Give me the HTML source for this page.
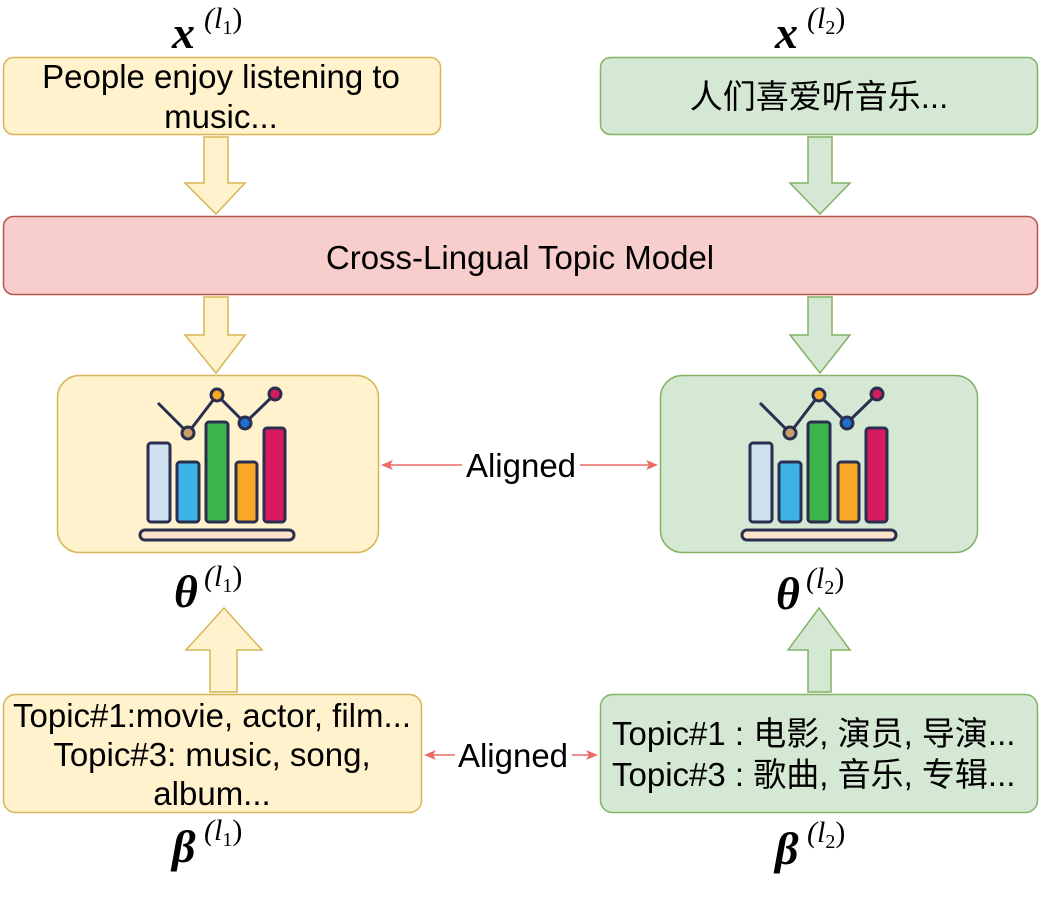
<!DOCTYPE html>
<html><head><meta charset="utf-8"><style>
html,body{margin:0;padding:0;background:#fff;}
svg{display:block;}
.t{font-family:"Liberation Sans","Noto Sans CJK SC",sans-serif;font-size:33px;fill:#000;}
.m{font-family:"Liberation Serif",serif;font-style:italic;font-weight:bold;fill:#000;}
.s{font-family:"Liberation Serif",serif;font-style:italic;fill:#000;}
</style></head><body>
<svg width="1042" height="906" viewBox="0 0 1042 906" xmlns="http://www.w3.org/2000/svg">
<defs>
<g id="icon">
<polyline points="158,403 188,433 217,395 245,423 275,394" fill="none" stroke="#2a2f4f" stroke-width="3"/>
<rect x="148" y="443" width="22" height="79" rx="3" fill="#cfe0ef" stroke="#2a2f4f" stroke-width="3"/>
<rect x="177" y="462" width="22" height="60" rx="3" fill="#3db2e6" stroke="#2a2f4f" stroke-width="3"/>
<rect x="206" y="422" width="22" height="100" rx="3" fill="#3cb54a" stroke="#2a2f4f" stroke-width="3"/>
<rect x="236" y="462" width="21" height="60" rx="3" fill="#f9a825" stroke="#2a2f4f" stroke-width="3"/>
<rect x="264" y="428" width="21" height="94" rx="3" fill="#d81b60" stroke="#2a2f4f" stroke-width="3"/>
<rect x="140" y="530" width="154" height="10" rx="5" fill="#fce4cc" stroke="#2a2f4f" stroke-width="3"/>
<circle cx="188" cy="433" r="6" fill="#c9a06a" stroke="#2a2f4f" stroke-width="3"/>
<circle cx="217" cy="395" r="6" fill="#f9a825" stroke="#2a2f4f" stroke-width="3"/>
<circle cx="245" cy="423" r="6" fill="#1e6fd0" stroke="#2a2f4f" stroke-width="3"/>
<circle cx="275" cy="394" r="6" fill="#d81b60" stroke="#2a2f4f" stroke-width="3"/>
</g>
</defs>
<!-- math labels -->
<text class="m" x="172" y="48" font-size="46">x</text><text class="s" x="204" y="28" font-size="30">(l<tspan font-size="20" dy="6" font-style="normal">1</tspan><tspan dy="-6" font-style="normal">)</tspan></text>
<text class="m" x="775" y="48" font-size="46">x</text><text class="s" x="807" y="28" font-size="30">(l<tspan font-size="20" dy="6" font-style="normal">2</tspan><tspan dy="-6" font-style="normal">)</tspan></text>
<!-- top boxes -->
<rect x="3.5" y="57.5" width="437" height="77" rx="10" fill="#fff2cc" stroke="#d6b656" stroke-width="1.5"/>
<text class="t" x="221" y="88" text-anchor="middle">People enjoy listening to</text>
<text class="t" x="221" y="128" text-anchor="middle">music...</text>
<rect x="600.5" y="57.5" width="437" height="77" rx="10" fill="#d5e8d4" stroke="#82b366" stroke-width="1.5"/>
<text class="t" x="819" y="108" text-anchor="middle">人们喜爱听音乐...</text>
<!-- block arrows down -->
<polygon points="204,137 228,137 228,183 245,183 216,214 185,183 204,183" fill="#fff2cc" stroke="#d6b656" stroke-width="1.5"/>
<polygon points="808,137 832,137 832,183 850,183 820,214 790,183 808,183" fill="#d5e8d4" stroke="#82b366" stroke-width="1.5"/>
<polygon points="204,297 228,297 228,335 245,335 216,373 185,335 204,335" fill="#fff2cc" stroke="#d6b656" stroke-width="1.5"/>
<polygon points="808,297 832,297 832,335 850,335 820,373 790,335 808,335" fill="#d5e8d4" stroke="#82b366" stroke-width="1.5"/>
<!-- model -->
<rect x="3.5" y="216.5" width="1034" height="78" rx="10" fill="#f8cecc" stroke="#b85450" stroke-width="1.5"/>
<text class="t" x="520" y="269" text-anchor="middle" font-size="34">Cross-Lingual Topic Model</text>
<!-- middle boxes -->
<rect x="57.5" y="375.5" width="321" height="177" rx="22" fill="#fff2cc" stroke="#d6b656" stroke-width="1.5"/>
<rect x="660.5" y="375.5" width="317" height="177" rx="22" fill="#d5e8d4" stroke="#82b366" stroke-width="1.5"/>
<use href="#icon"/>
<use href="#icon" transform="translate(602,0)"/>
<!-- aligned arrows -->
<line x1="384" y1="465" x2="462" y2="465" stroke="#ea6b66" stroke-width="1.5"/>
<line x1="580" y1="465" x2="654" y2="465" stroke="#ea6b66" stroke-width="1.5"/>
<polygon points="381,465 393,460 390,465 393,470" fill="#ea6b66"/>
<polygon points="658,465 646,460 649,465 646,470" fill="#ea6b66"/>
<text class="t" x="521" y="477" text-anchor="middle">Aligned</text>
<line x1="427" y1="755" x2="455" y2="755" stroke="#ea6b66" stroke-width="1.5"/>
<line x1="572" y1="755" x2="595" y2="755" stroke="#ea6b66" stroke-width="1.5"/>
<polygon points="424,755 436,750 433,755 436,760" fill="#ea6b66"/>
<polygon points="598,755 586,750 589,755 586,760" fill="#ea6b66"/>
<text class="t" x="513" y="767" text-anchor="middle">Aligned</text>
<!-- theta -->
<text class="m" x="174" y="607" font-size="46">θ</text><text class="s" x="204" y="586" font-size="30">(l<tspan font-size="20" dy="6" font-style="normal">1</tspan><tspan dy="-6" font-style="normal">)</tspan></text>
<text class="m" x="776" y="609" font-size="46">θ</text><text class="s" x="806" y="588" font-size="30">(l<tspan font-size="20" dy="6" font-style="normal">2</tspan><tspan dy="-6" font-style="normal">)</tspan></text>
<!-- up arrows -->
<polygon points="210,692 237,692 237,650 262,650 224,608 186,650 210,650" fill="#fff2cc" stroke="#d6b656" stroke-width="1.5"/>
<polygon points="808,692 831,692 831,650 850,650 819,608 788,650 808,650" fill="#d5e8d4" stroke="#82b366" stroke-width="1.5"/>
<!-- bottom boxes -->
<rect x="3.5" y="694.5" width="418" height="118" rx="12" fill="#fff2cc" stroke="#d6b656" stroke-width="1.5"/>
<text class="t" x="212" y="727" text-anchor="middle">Topic#1:movie, actor, film...</text>
<text class="t" x="212" y="766" text-anchor="middle">Topic#3: music, song,</text>
<text class="t" x="212" y="805" text-anchor="middle">album...</text>
<rect x="600.5" y="694.5" width="437" height="118" rx="12" fill="#d5e8d4" stroke="#82b366" stroke-width="1.5"/>
<text class="t" x="612" y="745">Topic#1 : 电影, 演员, 导演...</text>
<text class="t" x="612" y="786">Topic#3 : 歌曲, 音乐, 专辑...</text>
<!-- beta -->
<text class="m" x="172" y="862" font-size="46">β</text><text class="s" x="204" y="840" font-size="30">(l<tspan font-size="20" dy="6" font-style="normal">1</tspan><tspan dy="-6" font-style="normal">)</tspan></text>
<text class="m" x="775" y="864" font-size="46">β</text><text class="s" x="807" y="842" font-size="30">(l<tspan font-size="20" dy="6" font-style="normal">2</tspan><tspan dy="-6" font-style="normal">)</tspan></text>
</svg>
</body></html>
